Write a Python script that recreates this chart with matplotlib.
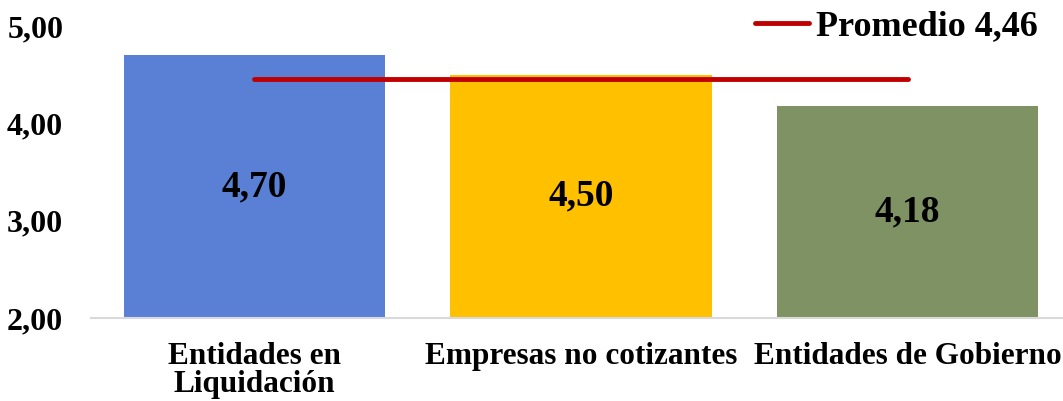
import matplotlib.pyplot as plt
from matplotlib.lines import Line2D

categorias = ["Entidades en\nLiquidación", "Empresas no cotizantes", "Entidades de Gobierno"]
valores = [4.70, 4.50, 4.18]
promedio = 4.46
colores = ["#5A80D6", "#FFC000", "#7F9264"]
yticks = [2.0, 3.0, 4.0, 5.0]

plt.rcParams['font.family'] = ['Liberation Serif', 'DejaVu Serif']
plt.rcParams['font.weight'] = 'bold'

fig = plt.figure(figsize=(10.63, 4.01), dpi=100)
ax = fig.add_axes([91/1063, 1 - 318/401, 980/1063, (318 - 26)/401])

x = list(range(len(categorias)))
ax.bar(x, [v - 2 for v in valores], bottom=2, width=0.80, color=colores, zorder=2)

# value labels in the middle of each bar
for xi, v in zip(x, valores):
    ax.text(xi, (2 + v) / 2, f"{v:.2f}".replace(".", ","), ha='center', va='center',
            fontsize=27, fontweight='bold')

ax.plot([x[0], x[-1]], [promedio, promedio], color="#C00000", lw=3.5,
        solid_capstyle='round', zorder=3)

ax.set_xlim(-0.5, 2.5)
ax.set_ylim(2, 5)
ax.set_yticks(yticks)
ax.set_yticklabels([f"{t:.2f}".replace(".", ",") for t in yticks], fontsize=23, fontweight='bold')
ax.set_xticks(x)
ax.set_xticklabels(categorias, fontsize=22.5, fontweight='bold', linespacing=0.95)
ax.tick_params(length=0)
ax.tick_params(axis='x', pad=17)
ax.tick_params(axis='y', pad=20)

for s in ['top', 'right', 'left']:
    ax.spines[s].set_visible(False)
ax.spines['bottom'].set_color('#D9D9D9')
ax.spines['bottom'].set_linewidth(1.5)

handle = Line2D([], [], color="#C00000", lw=3.5, solid_capstyle='round')
fig.legend([handle], [f"Promedio {promedio:.2f}".replace(".", ",")],
           loc='upper right', bbox_to_anchor=(1038/1063, 1 - 10/401),
           frameon=False, borderpad=0, borderaxespad=0, handlelength=1.5,
           handletextpad=0.2, prop={'size': 26, 'weight': 'bold'})

fig.savefig("out.png", dpi=100)
